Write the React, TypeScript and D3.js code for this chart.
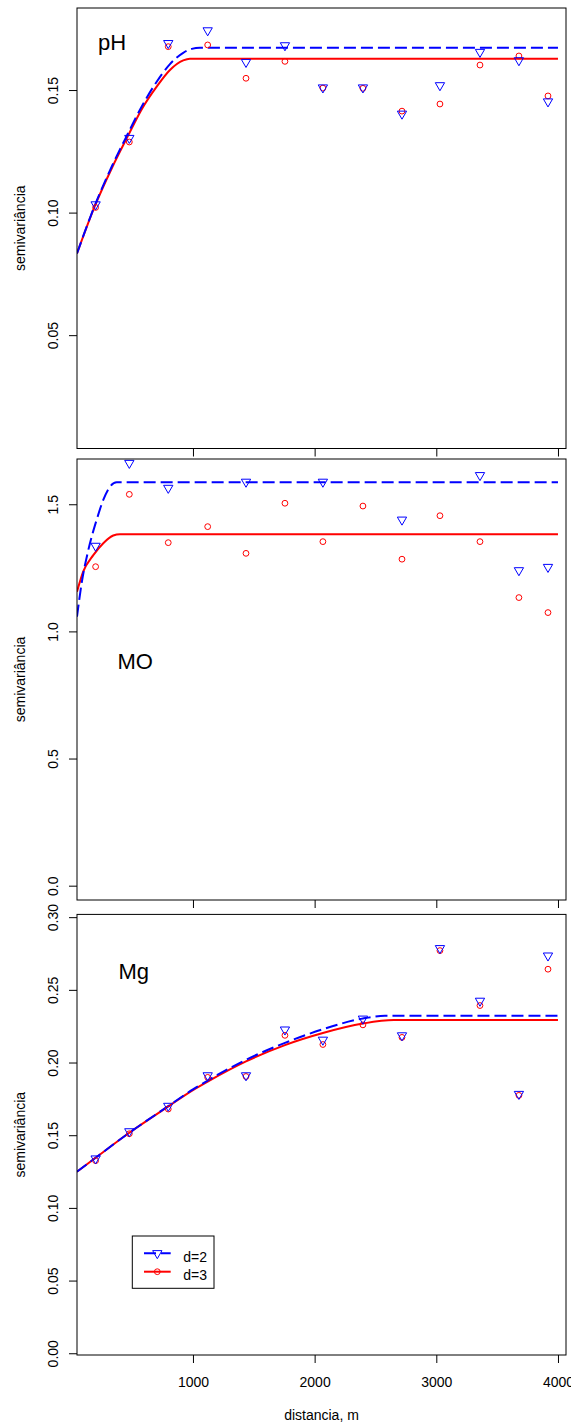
import React, { useEffect, useRef } from 'react';
import * as d3 from 'd3';

// mean lag distances (m), same bins in all three variograms
const lags = [200, 477, 797, 1121, 1436, 1756, 2068, 2397, 2718, 3030, 3359, 3679, 3918];

// empirical semivariances, d=2 (triangles) and d=3 (circles)
const phD2 = [0.1033, 0.1304, 0.1691, 0.1743, 0.1614, 0.1682, 0.1510, 0.1510, 0.1403, 0.1519, 0.1655, 0.1621, 0.1453];
const phD3 = [0.1021, 0.1288, 0.1677, 0.1684, 0.1548, 0.1617, 0.1508, 0.1507, 0.1414, 0.1443, 0.1602, 0.1639, 0.1476];
// some d=2 points of MO fall outside the plot region
const moD2 = [1.336, 1.662, 1.564, null, 1.588, null, 1.588, null, 1.439, null, 1.614, 1.240, 1.253];
const moD3 = [1.2545, 1.539, 1.349, 1.412, 1.307, 1.504, 1.353, 1.493, 1.284, 1.455, 1.353, 1.133, 1.074];
const mgD2 = [0.1339, 0.1526, 0.1701, 0.1911, 0.1911, 0.2226, 0.2156, 0.2301, 0.2186, 0.2786, 0.2424, 0.1783, 0.2735];
const mgD3 = [0.1325, 0.1510, 0.1680, 0.1898, 0.1904, 0.2187, 0.2124, 0.2259, 0.2173, 0.2770, 0.2392, 0.1774, 0.2642];

// fitted models as [distance, semivariance]
const phFitD2 = [[47, 0.0833], [195, 0.1031], [332, 0.1187], [468, 0.1325], [578, 0.1432], [702, 0.1534], [811, 0.1606], [920, 0.1652], [990, 0.1668], [1058, 0.1673], [4000, 0.1673]];
const phFitD3 = [[47, 0.0833], [195, 0.1028], [332, 0.1180], [468, 0.1315], [578, 0.1421], [702, 0.1514], [811, 0.1582], [920, 0.1621], [975, 0.1628], [4000, 0.1628]];
const moFitD2 = [[47, 1.058], [85, 1.189], [140, 1.320], [208, 1.438], [263, 1.517], [318, 1.569], [373, 1.5865], [4000, 1.5865]];
const moFitD3 = [[47, 1.156], [98, 1.235], [181, 1.300], [263, 1.347], [345, 1.377], [400, 1.382], [4000, 1.382]];
const mgFitD2 = [[47, 0.1249], [200, 0.1345], [477, 0.1517], [797, 0.1700], [1000, 0.1815], [1121, 0.1876], [1436, 0.2019], [1756, 0.2135], [2068, 0.2229], [2397, 0.2303], [2578, 0.2322], [4000, 0.2322]];
const mgFitD3 = [[47, 0.1249], [200, 0.1345], [477, 0.1517], [797, 0.1698], [1000, 0.1810], [1121, 0.1869], [1436, 0.2008], [1756, 0.2120], [2068, 0.2203], [2397, 0.2268], [2650, 0.2292], [4000, 0.2292]];

const xTicks = [1000, 2000, 3000, 4000];
const phTicks = [0.05, 0.10, 0.15];
const moTicks = [0.0, 0.5, 1.0, 1.5];
const mgTicks = [0.00, 0.05, 0.10, 0.15, 0.20, 0.25, 0.30];

const legendLabels = ['d=2', 'd=3'];

const FONT = 'Liberation Sans, Arial, Helvetica, sans-serif';
const BLUE = '#0000ff';
const RED = '#ff0000';
const left = 77;
const right = 566;

const panels = [
  { name: 'pH', top: 8, bottom: 448.5, yDomain: [0.00376, 0.18347], ticks: phTicks, fmt: '.2f', d2: phD2, d3: phD3, fit2: phFitD2, fit3: phFitD3, lx: 98, ly: 50, xLabels: false },
  { name: 'MO', top: 459, bottom: 900, yDomain: [-0.0563, 1.678], ticks: moTicks, fmt: '.1f', d2: moD2, d3: moD3, fit2: moFitD2, fit3: moFitD3, lx: 117.5, ly: 669, xLabels: false },
  { name: 'Mg', top: 914.4, bottom: 1355, yDomain: [-0.0012, 0.3019], ticks: mgTicks, fmt: '.2f', d2: mgD2, d3: mgD3, fit2: mgFitD2, fit3: mgFitD3, lx: 118.5, ly: 979, xLabels: true },
];

const triangle = d3.symbol().type(d3.symbolTriangle).size(37.5);

export default function App() {
  const ref = useRef<SVGSVGElement>(null);

  useEffect(() => {
    const svg = d3.select(ref.current);
    svg.selectAll('*').remove();

    const x = d3.scaleLinear().domain([47, 4066]).range([left, right]);

    panels.forEach((p, i) => {
      const y = d3.scaleLinear().domain(p.yDomain).range([p.bottom, p.top]);
      const g = svg.append('g');
      const clipId = 'clip' + i;
      svg.append('clipPath').attr('id', clipId)
        .append('rect')
        .attr('x', left).attr('y', p.top)
        .attr('width', right - left).attr('height', p.bottom - p.top);

      const line = d3.line<number[]>()
        .x(d => x(d[0]))
        .y(d => y(d[1]))
        .curve(d3.curveMonotoneX);

      g.append('path').datum(p.fit3)
        .attr('d', line)
        .attr('fill', 'none').attr('stroke', RED).attr('stroke-width', 2)
        .attr('clip-path', `url(#${clipId})`);
      g.append('path').datum(p.fit2)
        .attr('d', line)
        .attr('fill', 'none').attr('stroke', BLUE).attr('stroke-width', 2)
        .attr('stroke-dasharray', '12,5')
        .attr('clip-path', `url(#${clipId})`);

      const pts2 = lags.map((h, k) => ({ h, v: p.d2[k] })).filter(d => d.v != null);
      const pts3 = lags.map((h, k) => ({ h, v: p.d3[k] })).filter(d => d.v != null);

      const marks = g.append('g').attr('clip-path', `url(#${clipId})`);
      marks.selectAll('circle').data(pts3).enter().append('circle')
        .attr('cx', d => x(d.h)).attr('cy', d => y(d.v as number))
        .attr('r', 2.9)
        .attr('fill', 'none').attr('stroke', RED).attr('stroke-width', 1);
      marks.selectAll('path.tri').data(pts2).enter().append('path')
        .attr('class', 'tri')
        .attr('d', triangle as any)
        .attr('transform', d => `translate(${x(d.h)},${y(d.v as number)}) rotate(180)`)
        .attr('fill', 'none').attr('stroke', BLUE).attr('stroke-width', 1);

      // box
      g.append('rect')
        .attr('x', left).attr('y', p.top)
        .attr('width', right - left).attr('height', p.bottom - p.top)
        .attr('fill', 'none').attr('stroke', '#000').attr('stroke-width', 1);

      // y axis, labels parallel to the axis like R's las=0
      const ya = g.append('g')
        .attr('transform', `translate(${left},0)`)
        .call(d3.axisLeft(y).tickValues(p.ticks).tickFormat(d3.format(p.fmt) as any).tickSize(8).tickSizeOuter(0));
      ya.select('.domain').remove();
      ya.attr('font-size', 14).attr('font-family', FONT).attr('color', '#000');
      ya.selectAll('text')
        .attr('transform', 'rotate(-90)')
        .attr('x', 0).attr('y', -19).attr('dy', null)
        .attr('text-anchor', 'middle')
        .attr('fill', '#000');

      // x axis
      const xa = g.append('g')
        .attr('transform', `translate(0,${p.bottom})`)
        .call(d3.axisBottom(x).tickValues(xTicks).tickFormat(d3.format('d') as any).tickSize(8).tickSizeOuter(0));
      xa.select('.domain').remove();
      xa.attr('font-size', 14).attr('font-family', FONT).attr('color', '#000');
      if (p.xLabels) {
        xa.selectAll('text').attr('y', 32.3).attr('dy', null).attr('fill', '#000');
      } else {
        xa.selectAll('text').remove();
      }

      // y title
      g.append('text')
        .attr('transform', `translate(25,${(p.top + p.bottom) / 2}) rotate(-90)`)
        .attr('text-anchor', 'middle')
        .attr('font-family', FONT).attr('font-size', 14)
        .text('semivariância');

      // panel name
      g.append('text')
        .attr('x', p.lx).attr('y', p.ly)
        .attr('font-family', FONT).attr('font-size', 22)
        .text(p.name);
    });

    // x title
    svg.append('text')
      .attr('x', (left + right) / 2).attr('y', 1420)
      .attr('text-anchor', 'middle')
      .attr('font-family', FONT).attr('font-size', 14)
      .text('distancia, m');

    // legend
    const lg = svg.append('g');
    lg.append('rect')
      .attr('x', 132.3).attr('y', 1236).attr('width', 81.7).attr('height', 52.3)
      .attr('fill', '#fff').attr('stroke', '#000').attr('stroke-width', 1);
    legendLabels.forEach((lab, k) => {
      const ly = 1253.3 + k * 18.4;
      lg.append('line')
        .attr('x1', 144).attr('x2', 170.7).attr('y1', ly).attr('y2', ly)
        .attr('stroke', k === 0 ? BLUE : RED).attr('stroke-width', 2)
        .attr('stroke-dasharray', k === 0 ? '12,5' : null);
      if (k === 0) {
        lg.append('path')
          .attr('d', triangle as any)
          .attr('transform', `translate(157.3,${ly}) rotate(180)`)
          .attr('fill', 'none').attr('stroke', BLUE).attr('stroke-width', 1);
      } else {
        lg.append('circle')
          .attr('cx', 157.3).attr('cy', ly).attr('r', 2.9)
          .attr('fill', 'none').attr('stroke', RED).attr('stroke-width', 1);
      }
      lg.append('text')
        .attr('x', 183.3).attr('y', ly + 8.2)
        .attr('font-family', FONT).attr('font-size', 14)
        .text(lab);
    });
  }, []);

  return (
    <svg
      ref={ref}
      width={571}
      height={1422}
      style={{ position: 'absolute', left: 0, top: 0, background: '#fff', display: 'block' }}
    />
  );
}
